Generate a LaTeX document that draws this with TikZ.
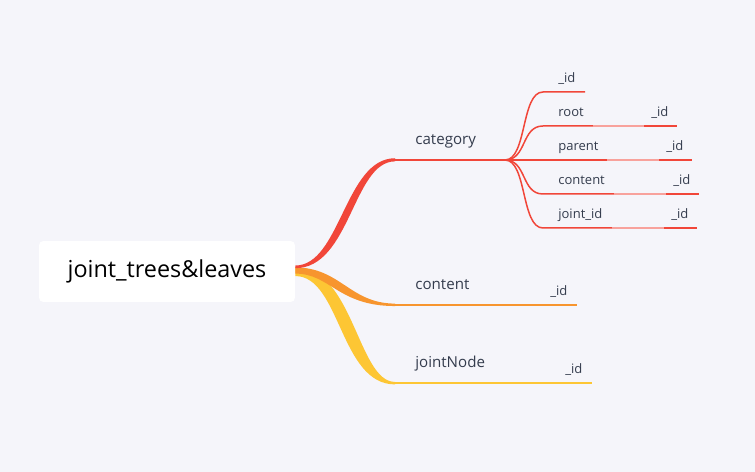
\documentclass[tikz,border=0pt]{standalone}
\usepackage{fontspec}
\setmainfont{Open Sans}
\definecolor{bgcol}{RGB}{245,245,250}
\definecolor{txtcol}{RGB}{52,60,77}
\definecolor{catred}{RGB}{241,70,57}
\definecolor{conorange}{RGB}{247,149,46}
\definecolor{jnyellow}{RGB}{253,198,52}

\begin{document}
\begin{tikzpicture}[x=0.02cm,y=-0.02cm,
  rootbox/.style={fill=white,rounded corners=2.5pt,minimum width=5.12cm,minimum height=1.22cm,inner sep=0pt,font=\fontsize{13.3}{16}\selectfont},
  topic/.style={anchor=base west,inner sep=0pt,text=txtcol,font=\fontsize{8.6}{10}\selectfont},
  leaf/.style={anchor=base west,inner sep=0pt,text=txtcol,font=\fontsize{7.4}{9}\selectfont},
  trunk/.style={line width=1.1pt},
  twig/.style={draw=catred,line width=0.85pt},
  faded/.style={draw=catred!50,line width=0.85pt}]

\fill[bgcol] (0,0) rectangle (755,472);

\node[rootbox] (root) at (167,271.5) {joint\_trees\&leaves};

% branch ends
\coordinate (catA) at (395,160);
\coordinate (fan) at (505,160);
\coordinate (conA) at (395,305);
\coordinate (conB) at (577,305);
\coordinate (jnA) at (395,383);
\coordinate (jnB) at (592,383);

% ribbons from the root
\fill[jnyellow] ([yshift=2.5pt]root.east) .. controls +(58,0) and +(-37,0) .. ([yshift=0.6pt]jnA)
  -- ([yshift=-0.8pt]jnA) .. controls +(-55,0) and +(45,0) .. ([yshift=-2.6pt]root.east) -- cycle;
\fill[conorange] ([yshift=2.3pt]root.east) .. controls +(45,0) and +(-45,0) .. ([yshift=0.8pt]conA)
  -- ([yshift=-0.6pt]conA) .. controls +(-57,0) and +(35,0) .. ([yshift=-1.2pt]root.east) -- cycle;
\fill[catred] ([yshift=3.4pt]root.east) .. controls +(45,0) and +(-50,0) .. ([yshift=1pt]catA)
  -- ([yshift=-0.8pt]catA) .. controls +(-42,0) and +(55,0) .. ([yshift=1.9pt]root.east) -- cycle;

\draw[trunk,catred] (catA) -- (fan);
\draw[trunk,conorange] (conA) -- (conB);
\draw[trunk,jnyellow] (jnA) -- (jnB);

\node[topic] (category) at (415,145) {category};
\node[topic] (content) at (415,290) {content};
\node[topic] (jointNode) at (415,368) {jointNode};
\node[leaf] (content-id) at (550,296) {\_id};
\node[leaf] (jointNode-id) at (565,374) {\_id};

% children of category
\coordinate (id-a) at (543,92);
\coordinate (id-b) at (585,92);
\draw[twig] (fan) .. controls +(22,0) and +(-22,0) .. (id-a) -- (id-b);
\node[leaf] (id) at (558,83) {\_id};

\foreach \nm/\txt/\y/\a/\b in {root/root/126/593/644, parent/parent/160/607/659,
    cont/content/194/614/666, jid/joint\_id/228/612/664}{
  \coordinate (\nm-a) at (543,\y);
  \coordinate (\nm-b) at (\a,\y);
  \coordinate (\nm-c) at (\b,\y);
  \coordinate (\nm-d) at (\b+33,\y);
  \draw[twig] (fan) .. controls +(22,0) and +(-22,0) .. (\nm-a) -- (\nm-b);
  \draw[faded] (\nm-b) -- (\nm-c);
  \draw[twig] (\nm-c) -- (\nm-d);
  \node[leaf] (\nm) at (558,\y-9) {\txt};
  \node[leaf] (\nm-id) at (\b+7,\y-9) {\_id};
}

\end{tikzpicture}
\end{document}
